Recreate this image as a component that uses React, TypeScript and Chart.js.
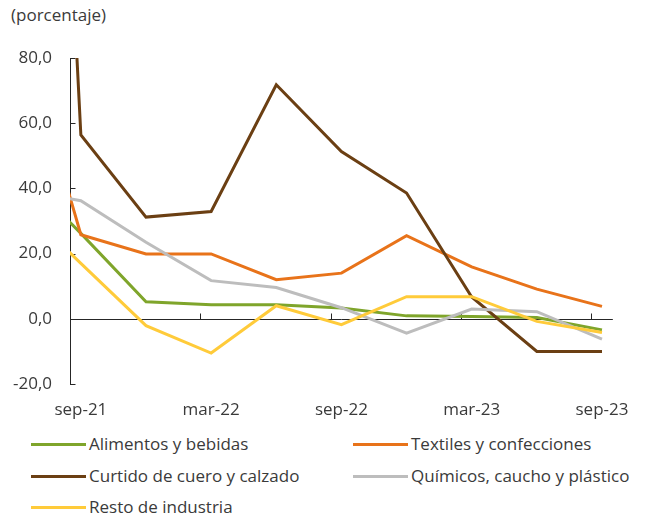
import React, { useEffect, useRef } from 'react';
import { Chart, registerables } from 'chart.js';

Chart.register(...registerables);

// ---- data ----
const periods = ['jun-21', 'sep-21', 'dic-21', 'mar-22', 'jun-22', 'sep-22', 'dic-22', 'mar-23', 'jun-23', 'sep-23'];
const alimentos = [46.4, 26.2, 5.2, 4.3, 4.3, 3.3, 0.9, 0.7, 0.4, -3.4];
const textiles = [95.0, 25.8, 19.9, 19.9, 12.0, 14.0, 25.5, 15.9, 9.1, 3.8];
const curtido = [450.0, 56.4, 31.2, 32.9, 71.8, 51.3, 38.6, 6.7, -10.0, -10.0];
const quimicos = [40.0, 36.2, 23.5, 11.7, 9.6, 3.4, -4.4, 3.0, 2.2, -6.2];
const resto = [36.4, 17.0, -2.1, -10.5, 4.0, -1.8, 6.8, 6.8, -0.8, -4.2];

const seriesNames = [
  'Alimentos y bebidas',
  'Textiles y confecciones',
  'Curtido de cuero y calzado',
  'Químicos, caucho y plástico',
  'Resto de industria',
];
const seriesColors = ['#7FA52B', '#E8731A', '#6B3F13', '#BDBDBD', '#FFCB3A'];
const seriesValues = [alimentos, textiles, curtido, quimicos, resto];

const xTickLabels = ['sep-21', 'mar-22', 'sep-22', 'mar-23', 'sep-23'];
const firstMonth = 'sep-21';
const lastMonth = 'sep-23';
const yMin = -20;
const yMax = 80;
const yStep = 20;

const MONTHS = ['ene', 'feb', 'mar', 'abr', 'may', 'jun', 'jul', 'ago', 'sep', 'oct', 'nov', 'dic'];
function monthNumber(label: string): number {
  const [m, y] = label.split('-');
  return Number(y) * 12 + MONTHS.indexOf(m);
}
const base = monthNumber(firstMonth);
const toX = (label: string) => monthNumber(label) - base;

const FONT = '"Open Sans", sans-serif';
const TEXT = '#3a3a3a';
const AXIS = '#262626';

const axisPlugin = {
  id: 'excelAxes',
  beforeDatasetsDraw(chart: any) {
    const { ctx, chartArea, scales } = chart;
    const xs = scales.x;
    const ys = scales.y;
    const y0 = Math.round(ys.getPixelForValue(0)) + 0.5;
    ctx.save();
    ctx.strokeStyle = AXIS;
    ctx.lineWidth = 1;
    ctx.beginPath();
    ctx.moveTo(chartArea.left, y0);
    ctx.lineTo(chartArea.right, y0);
    // x tick marks between six-month groups
    xTickLabels.slice(1).forEach((l) => {
      const px = Math.round(xs.getPixelForValue(toX(l) - 0.5)) + 0.5;
      ctx.moveTo(px, y0);
      ctx.lineTo(px, y0 - 6);
    });
    // y tick marks, inward
    const left = Math.round(chartArea.left) + 0.5;
    for (let v = yMin; v <= yMax; v += yStep) {
      const py = Math.round(ys.getPixelForValue(v)) + 0.5;
      ctx.moveTo(left, py);
      ctx.lineTo(left + 5, py);
    }
    ctx.stroke();
    ctx.restore();
  },
};

function ChartCanvas() {
  const ref = useRef<HTMLCanvasElement | null>(null);
  useEffect(() => {
    if (!ref.current) return;
    const datasets = seriesNames.map((name, i) => ({
      label: name,
      data: periods.map((p, j) => ({ x: toX(p), y: seriesValues[i][j] })),
      borderColor: seriesColors[i],
      backgroundColor: seriesColors[i],
      borderWidth: 3,
      pointRadius: 0,
      tension: 0,
      fill: false,
      order: seriesNames.length - i,
    }));
    const chart = new Chart(ref.current, {
      type: 'line',
      data: { datasets },
      plugins: [axisPlugin],
      options: {
        animation: false,
        responsive: false,
        devicePixelRatio: 1,
        layout: { padding: { left: 0, right: 27, top: 58, bottom: 0 } },
        plugins: { legend: { display: false }, tooltip: { enabled: false } },
        scales: {
          x: {
            type: 'linear',
            min: toX(firstMonth) - 0.5,
            max: toX(lastMonth) + 0.5,
            grid: { display: false, drawTicks: false },
            border: { display: false },
            afterBuildTicks: (s: any) => {
              s.ticks = xTickLabels.map((l) => ({ value: toX(l) }));
            },
            afterFit: (s: any) => {
              s.height = 46;
            },
            ticks: {
              autoSkip: false,
              maxRotation: 0,
              padding: 16,
              color: TEXT,
              font: { family: FONT, size: 17 },
              callback: (v: any) => {
                const i = xTickLabels.findIndex((l) => toX(l) === v);
                return i >= 0 ? xTickLabels[i] : '';
              },
            },
          },
          y: {
            min: yMin,
            max: yMax,
            grid: { display: false, drawTicks: false },
            border: { display: true, color: AXIS, width: 1 },
            afterFit: (s: any) => {
              s.width = 70;
            },
            ticks: {
              stepSize: yStep,
              padding: 18,
              color: TEXT,
              font: { family: FONT, size: 17 },
              callback: (v: any) => Number(v).toFixed(1).replace('.', ','),
            },
          },
        },
      },
    });
    return () => chart.destroy();
  }, []);
  return <canvas ref={ref} width={645} height={430} style={{ position: 'absolute', left: 0, top: 0, width: 645, height: 430 }} />;
}

const legendPos = [
  { x: 31, y: 444 },
  { x: 353, y: 444 },
  { x: 31, y: 476 },
  { x: 353, y: 476 },
  { x: 31, y: 507 },
];

export default function App() {
  return (
    <div style={{ position: 'absolute', left: 0, top: 0, width: 645, height: 519, background: '#fff', overflow: 'hidden', fontFamily: FONT }}>
      <div style={{ position: 'absolute', left: 11, top: 4, fontSize: 17, color: TEXT, lineHeight: '22px', whiteSpace: 'nowrap' }}>(porcentaje)</div>
      <ChartCanvas />
      {seriesNames.map((name, i) => (
        <div key={name} style={{ position: 'absolute', left: legendPos[i].x, top: legendPos[i].y - 12, height: 24, display: 'flex', alignItems: 'center', whiteSpace: 'nowrap' }}>
          <span style={{ display: 'inline-block', width: 55, height: 3, background: seriesColors[i], marginRight: 3 }} />
          <span style={{ fontSize: 17, color: TEXT, lineHeight: '24px' }}>{name}</span>
        </div>
      ))}
    </div>
  );
}
